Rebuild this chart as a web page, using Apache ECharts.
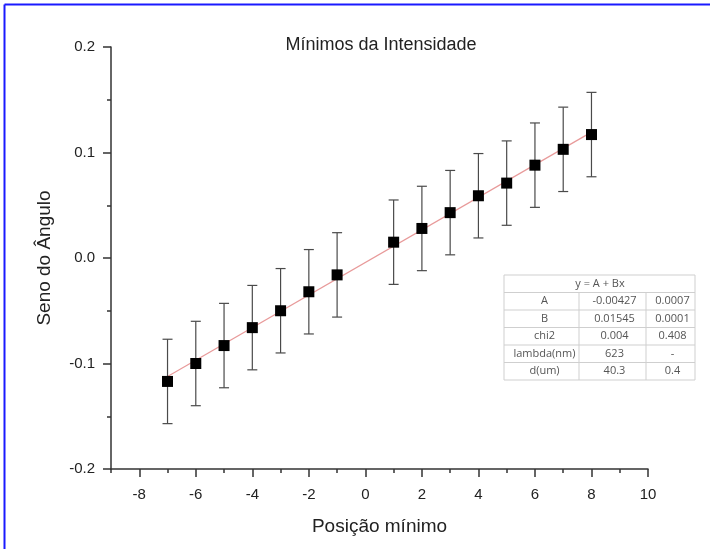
<!DOCTYPE html>
<html>
<head>
<meta charset="utf-8">
<script src="https://cdn.jsdelivr.net/npm/echarts@6/dist/echarts.min.js"></script>
<style>
  html, body { margin: 0; padding: 0; background: #fff; }
  #chart { width: 710px; height: 549px; }
</style>
</head>
<body>
<div id="chart"></div>
<script>
// Positions of the intensity minima and the measured sine of the angle
const posicoes = [-7, -6, -5, -4, -3, -2, -1, 1, 2, 3, 4, 5, 6, 7, 8];
const senos = [-0.117, -0.100, -0.083, -0.066, -0.050, -0.032, -0.016,
               0.015, 0.028, 0.043, 0.059, 0.071, 0.088, 0.103, 0.117];
const erros = [0.04, 0.04, 0.04, 0.04, 0.04, 0.04, 0.04,
               0.04, 0.04, 0.04, 0.04, 0.04, 0.04, 0.04, 0.04];

// Linear fit y = A + Bx, drawn between its end points
const ajusteX = [-7, 8];
const ajusteY = [-0.1124, 0.1193];

// Major tick values carrying labels
const ticksX = [-8, -6, -4, -2, 0, 2, 4, 6, 8, 10];
const ticksY = [-0.2, -0.1, 0, 0.1, 0.2];

// Fit results table
const tabelaTitulo = 'y = A + Bx';
const tabelaNomes = ['A', 'B', 'chi2', 'lambda(nm)', 'd(um)'];
const tabelaValores = ['-0.00427', '0.01545', '0.004', '623', '40.3'];
const tabelaErros = ['0.0007', '0.0001', '0.408', '-', '0.4'];

const pontos = posicoes.map((x, i) => [x, senos[i]]);
const barras = posicoes.map((x, i) => [x, senos[i] - erros[i], senos[i] + erros[i]]);
const linhaAjuste = ajusteX.map((x, i) => [x, ajusteY[i]]);

const chart = echarts.init(document.getElementById('chart'), null, { renderer: 'canvas' });

// Table drawn as graphic elements
const tL = 504, tT = 275, tR = 695, rowH = 17.5;
const c1 = 579, c2 = 646;
const tB = tT + rowH * 6;
const gridColor = '#cfcfcf';
const tabela = [];
tabela.push({ type: 'rect', shape: { x: tL, y: tT, width: tR - tL, height: tB - tT },
  style: { fill: '#fff', stroke: gridColor, lineWidth: 1 }, z: 10 });
for (let r = 1; r < 6; r++) {
  tabela.push({ type: 'line', shape: { x1: tL, y1: tT + r * rowH, x2: tR, y2: tT + r * rowH },
    style: { stroke: gridColor, lineWidth: 1 }, z: 11 });
}
[c1, c2].forEach(cx => tabela.push({ type: 'line',
  shape: { x1: cx, y1: tT + rowH, x2: cx, y2: tB },
  style: { stroke: gridColor, lineWidth: 1 }, z: 11 }));
const txt = (t, x, y, align) => ({ type: 'text', x, y, z: 12,
  style: { text: t, fill: '#555', font: '11px "Open Sans", sans-serif',
           textAlign: align, textVerticalAlign: 'middle' } });
tabela.push(txt(tabelaTitulo, 600, tT + rowH / 2, 'center'));
tabelaNomes.forEach((n, i) => {
  const y = tT + (i + 1.5) * rowH;
  tabela.push(txt(n, (tL + c1) / 2 + 3, y, 'center'));
  tabela.push(txt(tabelaValores[i], (c1 + c2) / 2 + 2, y, 'center'));
  tabela.push(txt(tabelaErros[i], (c2 + tR) / 2 + 2, y, 'center'));
});

const fonte = 'Liberation Sans, Arial';
const eixoLinha = { color: '#333', width: 1.5 };

const option = {
  backgroundColor: '#fff',
  animation: false,
  title: {
    text: 'Mínimos da Intensidade',
    left: 376, top: 31, textAlign: 'center',
    textStyle: { fontFamily: fonte, fontSize: 18, fontWeight: 'normal', color: '#222' }
  },
  grid: { left: 111, right: 62, top: 47, bottom: 80 },
  xAxis: [
    {
      // minor ticks on every unit, carries the data
      type: 'value', min: -9, max: 10, interval: 1,
      axisLine: { show: true, onZero: false, lineStyle: eixoLinha },
      axisTick: { show: true, length: 4, lineStyle: eixoLinha },
      splitLine: { show: false },
      axisLabel: { show: false }
    },
    {
      // labelled major ticks
      type: 'value', min: -9, max: 10, position: 'bottom',
      name: 'Posição mínimo', nameLocation: 'middle', nameGap: 48,
      nameTextStyle: { fontFamily: fonte, fontSize: 19, color: '#222' },
      axisLine: { show: false, onZero: false },
      axisTick: { show: true, length: 8, customValues: ticksX, lineStyle: eixoLinha },
      splitLine: { show: false },
      axisLabel: { fontFamily: fonte, fontSize: 15, color: '#222', margin: 18,
                   customValues: ticksX, formatter: v => String(v) }
    }
  ],
  yAxis: [
    {
      type: 'value', min: -0.2, max: 0.2, interval: 0.05,
      axisLine: { show: true, onZero: false, lineStyle: eixoLinha },
      axisTick: { show: true, length: 4, lineStyle: eixoLinha },
      splitLine: { show: false },
      axisLabel: { show: false }
    },
    {
      type: 'value', min: -0.2, max: 0.2, position: 'left',
      name: 'Seno do Ângulo', nameLocation: 'middle', nameGap: 57,
      nameTextStyle: { fontFamily: fonte, fontSize: 19, color: '#222' },
      axisLine: { show: false, onZero: false },
      axisTick: { show: true, length: 8, customValues: ticksY, lineStyle: eixoLinha },
      splitLine: { show: false },
      axisLabel: { fontFamily: fonte, fontSize: 15, color: '#222', margin: 16,
                   customValues: ticksY, formatter: v => v.toFixed(1) }
    }
  ],
  series: [
    {
      type: 'line',
      data: linhaAjuste,
      symbol: 'none',
      lineStyle: { color: '#e89a9a', width: 1.2 },
      z: 2
    },
    {
      type: 'custom',
      data: barras,
      renderItem: (params, api) => {
        const x = api.value(0);
        const lo = api.coord([x, api.value(1)]);
        const hi = api.coord([x, api.value(2)]);
        const cap = 5;
        const st = { stroke: '#4a4a4a', lineWidth: 1.2 };
        return {
          type: 'group',
          children: [
            { type: 'line', shape: { x1: lo[0], y1: lo[1], x2: hi[0], y2: hi[1] }, style: st },
            { type: 'line', shape: { x1: lo[0] - cap, y1: lo[1], x2: lo[0] + cap, y2: lo[1] }, style: st },
            { type: 'line', shape: { x1: hi[0] - cap, y1: hi[1], x2: hi[0] + cap, y2: hi[1] }, style: st }
          ]
        };
      },
      z: 3
    },
    {
      type: 'scatter',
      data: pontos,
      symbol: 'rect',
      symbolSize: 11,
      itemStyle: { color: '#000000', opacity: 1 },
      emphasis: { disabled: true },
      z: 4
    }
  ],
  graphic: [
    { type: 'line', shape: { x1: 4.5, y1: 4.5, x2: 710, y2: 4.5 }, style: { stroke: '#1a1aff', lineWidth: 2 } },
    { type: 'line', shape: { x1: 4.5, y1: 4.5, x2: 4.5, y2: 549 }, style: { stroke: '#1a1aff', lineWidth: 2 } }
  ].concat(tabela)
};

chart.setOption(option);
</script>
</body>
</html>
